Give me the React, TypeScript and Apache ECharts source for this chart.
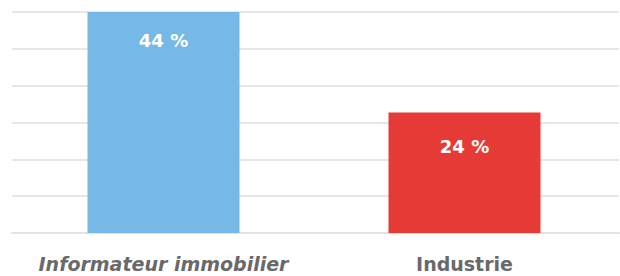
import React, { useEffect, useRef } from "react";
import * as echarts from "echarts";

const categories = ["Informateur immobilier", "Industrie"];
const values = [44, 24];
const barColors = ["#76b8e6", "#e53a35"];
const labelDistances = [19, 25];
const axisMax = 44;
const gridSteps = 6;

const FONT = "DejaVu Sans";

export default function App() {
  const ref = useRef<HTMLDivElement>(null);
  useEffect(() => {
    if (!ref.current) return;
    const chart = echarts.init(ref.current, null, { renderer: "svg" });
    chart.setOption({
      animation: false,
      grid: [
        { left: 12, right: 1, top: 12, bottom: 43 },
        { left: 13, right: 5, top: 12, bottom: 43 },
      ],
      xAxis: [
        {
          type: "category",
          gridIndex: 0,
          data: categories,
          axisLine: { show: true, lineStyle: { color: "#e3e3e3", width: 2 } },
          axisTick: { show: false },
          axisLabel: { show: false },
        },
        {
          type: "category",
          gridIndex: 1,
          data: categories,
          axisLine: { show: false },
          axisTick: { show: false },
          axisLabel: {
            interval: 0,
            margin: 21,
            fontSize: 19,
            fontWeight: "bold",
            color: "#69696b",
            fontFamily: FONT,
            formatter: (v: string) => (v === categories[0] ? "{i|" + v + "}" : v),
            rich: {
              i: { fontStyle: "italic", fontSize: 19, fontWeight: "bold", color: "#69696b", fontFamily: FONT },
            },
          },
        },
      ],
      yAxis: [
        {
          type: "value",
          gridIndex: 0,
          min: 0,
          max: axisMax,
          interval: axisMax / gridSteps,
          axisLabel: { show: false },
          axisLine: { show: false },
          axisTick: { show: false },
          splitLine: { lineStyle: { color: "#e6e6e6", width: 2 } },
        },
        {
          type: "value",
          gridIndex: 1,
          min: 0,
          max: axisMax,
          interval: axisMax / gridSteps,
          axisLabel: { show: false },
          axisLine: { show: false },
          axisTick: { show: false },
          splitLine: { show: false },
        },
      ],
      series: [
        {
          type: "bar",
          xAxisIndex: 1,
          yAxisIndex: 1,
          barWidth: 152,
          data: values.map((v, i) => ({
            value: v,
            itemStyle: { color: barColors[i] },
            label: { distance: labelDistances[i] },
          })),
          label: {
            show: true,
            position: "insideTop",
            color: "#ffffff",
            fontSize: 18,
            fontWeight: "bold",
            fontFamily: FONT,
            formatter: (p: any) => p.value + " %",
          },
        },
      ],
    });
    return () => chart.dispose();
  }, []);
  return <div ref={ref} style={{ width: 620, height: 276, position: "absolute", left: 0, top: 0 }} />;
}
